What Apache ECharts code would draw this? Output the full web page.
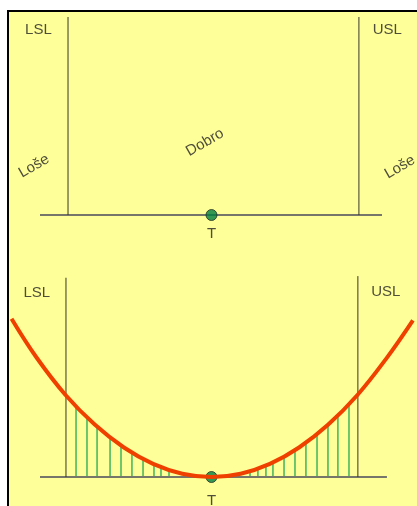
<!DOCTYPE html>
<html><head><meta charset="utf-8">
<script src="https://cdn.jsdelivr.net/npm/echarts/dist/echarts.min.js"></script>
<style>
html,body{margin:0;padding:0;width:417px;height:506px;overflow:hidden;background:#fff;}
#frame{position:absolute;left:7px;top:10px;width:600px;height:700px;border-left:2px solid #000;border-top:2px solid #000;background:#ffff99;}
#chart{position:absolute;left:0;top:0;width:417px;height:506px;}
</style></head><body>
<div id="frame"></div><div id="chart"></div>
<script>
// Deviation from target T (T = 0, spec limits ~ ±1)
const target = 0;
const topLimits = [-0.983, 1.01];      // LSL, USL (top panel)
const topLimitHeight = [1.0, 1.0];
const topBaseline = [-1.175, 1.168];
const bottomLimits = [-0.997, 1.003];  // LSL, USL (bottom panel)
const bottomLimitHeight = [2.43, 2.45];
const bottomBaseline = [-1.175, 1.202];

// Loss curve
const lossX = [-1.37, -1.2, -1.0, -0.8, -0.6, -0.4, -0.2, 0, 0.2, 0.4, 0.6, 0.8, 1.0, 1.2, 1.38];
const lossY = [1.93, 1.46, 1.0, 0.64, 0.36, 0.16, 0.04, 0, 0.04, 0.16, 0.36, 0.64, 1.0, 1.45, 1.91];

// Hatch lines under the curve
const hatchX = [-0.928, -0.853, -0.784, -0.695, -0.620, -0.545, -0.469, -0.394, -0.346, -0.291,
                0.264, 0.318, 0.373, 0.421, 0.497, 0.572, 0.647, 0.723, 0.798, 0.866, 0.942];
const hatchY = [0.86, 0.73, 0.61, 0.48, 0.38, 0.30, 0.22, 0.155, 0.12, 0.085,
                0.07, 0.10, 0.14, 0.18, 0.25, 0.33, 0.42, 0.52, 0.64, 0.75, 0.89];

// Labels
const topLabels = [
  {name: 'LSL', value: [-1.186, 0.934], rotate: 0},
  {name: 'USL', value: [1.205, 0.934], rotate: 0},
  {name: 'Loše', value: [-1.216, 0.247], rotate: 30},
  {name: 'Dobro', value: [-0.045, 0.366], rotate: 30},
  {name: 'Loše', value: [1.291, 0.242], rotate: 30}
];
const bottomLabels = [
  {name: 'LSL', value: [-1.197, 2.24], rotate: 0},
  {name: 'USL', value: [1.194, 2.26], rotate: 0}
];
const targetLabel = 'T';

const FONT = {fontFamily: 'Liberation Sans, Arial, sans-serif', fontSize: 15, color: '#222'};
const LIMIT_COLOR = '#36362c';
const BASE_COLOR = '#76766a';

function seg(idx, pts, color, width, z) {
  return {type: 'line', xAxisIndex: idx, yAxisIndex: idx, data: pts, symbol: 'none', silent: true,
    lineStyle: {color: color, width: width}, z: z, animation: false};
}
function labelSeries(idx, items) {
  return {type: 'scatter', xAxisIndex: idx, yAxisIndex: idx, symbolSize: 0, silent: true, animation: false, z: 10,
    data: items.map(d => ({name: d.name, value: d.value,
      label: {show: true, position: 'inside', formatter: '{b}', rotate: d.rotate, ...FONT}}))};
}
function dotSeries(idx, z, dist) {
  return {type: 'scatter', xAxisIndex: idx, yAxisIndex: idx, symbol: 'circle', symbolSize: 11, silent: true,
    animation: false, z: z,
    itemStyle: {color: '#008040', borderColor: '#233023', borderWidth: 1},
    label: {show: true, position: 'bottom', distance: dist, formatter: targetLabel, ...FONT},
    data: [[target, 0]]};
}

const series = [];
// top panel
series.push(seg(0, [[topBaseline[0], 0], [topBaseline[1], 0]], BASE_COLOR, 2, 2));
topLimits.forEach((x, i) => series.push(seg(0, [[x, 0], [x, topLimitHeight[i]]], LIMIT_COLOR, 1, 3)));
series.push(labelSeries(0, topLabels));
series.push(dotSeries(0, 5, 5));
// bottom panel
series.push({type: 'custom', xAxisIndex: 1, yAxisIndex: 1, silent: true, animation: false, z: 2,
  data: hatchX.map((x, i) => [x, hatchY[i]]),
  renderItem: function (params, api) {
    const p0 = api.coord([api.value(0), 0]);
    const p1 = api.coord([api.value(0), api.value(1)]);
    return {type: 'line', shape: {x1: p0[0], y1: p0[1], x2: p1[0], y2: p1[1]},
      style: {stroke: '#4cb860', lineWidth: 1.6}};
  }});
series.push(seg(1, [[bottomBaseline[0], 0], [bottomBaseline[1], 0]], BASE_COLOR, 2, 3));
bottomLimits.forEach((x, i) => series.push(seg(1, [[x, 0], [x, bottomLimitHeight[i]]], LIMIT_COLOR, 1, 3)));
series.push(labelSeries(1, bottomLabels));
series.push(dotSeries(1, 4, 10));
series.push({type: 'line', xAxisIndex: 1, yAxisIndex: 1, smooth: 0.4, symbol: 'none', silent: true,
  animation: false, z: 6, data: lossX.map((x, i) => [x, lossY[i]]),
  lineStyle: {color: '#f04000', width: 4}});

const chart = echarts.init(document.getElementById('chart'), null, {renderer: 'canvas'});
chart.setOption({
  backgroundColor: 'transparent',
  animation: false,
  grid: [
    {left: 0, right: 0, top: 17, height: 247.5},
    {left: 0, right: 0, top: 272, height: 233.7}
  ],
  xAxis: [
    {type: 'value', gridIndex: 0, min: -1.449, max: 1.408, show: false},
    {type: 'value', gridIndex: 1, min: -1.449, max: 1.408, show: false}
  ],
  yAxis: [
    {type: 'value', gridIndex: 0, min: -0.25, max: 1, show: false},
    {type: 'value', gridIndex: 1, min: -0.35, max: 2.5, show: false}
  ],
  series: series
});
</script>
</body></html>
